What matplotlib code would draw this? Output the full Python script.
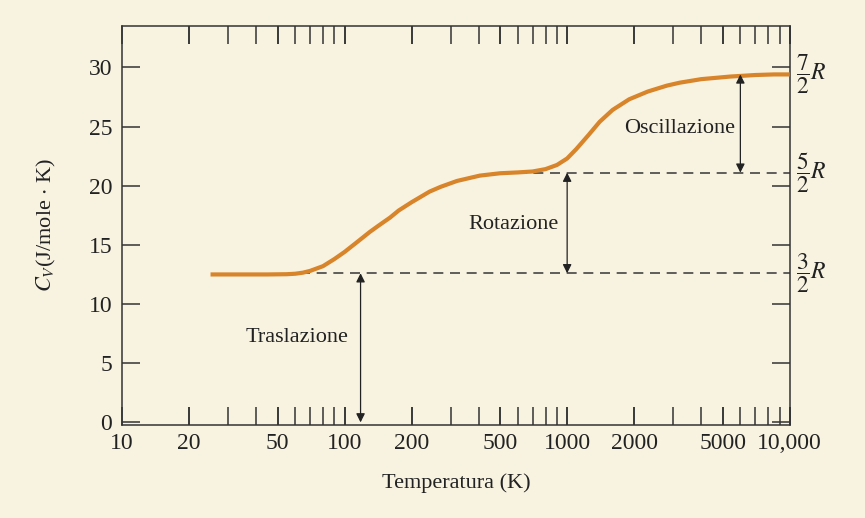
import matplotlib.pyplot as plt
from matplotlib.ticker import FixedLocator, FixedFormatter

plt.rcParams['font.family'] = ['Liberation Serif', 'DejaVu Serif']
plt.rcParams['mathtext.fontset'] = 'stix'

# curve: temperature (K) and Cv (J/mole K)
temp = [25, 35, 45, 55, 60, 65, 70, 80, 90, 100, 115, 130, 144, 160, 175,
        200, 241, 270, 320, 405, 500, 600, 700, 800, 900, 1000, 1100, 1250,
        1400, 1600, 1900, 2300, 2800, 3200, 4000, 5400, 7000, 8500, 10000]
cv = [12.5, 12.5, 12.5, 12.52, 12.56, 12.65, 12.8, 13.2, 13.8, 14.4, 15.3,
      16.1, 16.7, 17.3, 17.9, 18.6, 19.5, 19.9, 20.4, 20.85, 21.05, 21.12,
      21.2, 21.4, 21.75, 22.3, 23.1, 24.3, 25.4, 26.4, 27.3, 27.95, 28.45,
      28.7, 29.0, 29.22, 29.35, 29.4, 29.4]

# plateau levels (3/2 R, 5/2 R, 7/2 R) as drawn
levels = [12.6, 21.1, 29.4]
level_labels = [r'$\dfrac{3}{2}R$', r'$\dfrac{5}{2}R$', r'$\dfrac{7}{2}R$']

x_label_vals = [10, 20, 50, 100, 200, 500, 1000, 2000, 5000, 10000]
x_label_txt = ['10', '20', '50', '100', '200', '500', '1000', '2000', '5000', '10,000']
y_ticks = [0, 5, 10, 15, 20, 25, 30]

# arrows: x position, from, to
arrow_x = [118, 1000, 6000]
arrow_lo = [0, 12.6, 21.1]
arrow_hi = [12.6, 21.1, 29.4]
dash_start = [63, 500]

names = ['Traslazione', 'Rotazione', 'Oscillazione']
name_x = [61, 575, 3200]
name_y = [7.2, 16.7, 24.8]

bg = '#f8f3e1'
ink = '#222222'

fig = plt.figure(figsize=(8.65, 5.18), dpi=100, facecolor=bg)
ax = fig.add_axes([0.141, 0.180, 0.772, 0.770], facecolor=bg)

ax.plot(temp, cv, color='#d8842a', lw=3.0, solid_capstyle='butt',
        solid_joinstyle='round', zorder=3)

for start, lev in zip(dash_start, levels[:2]):
    ax.plot([start, 10000], [lev, lev], color='#444444', lw=1.2,
            dashes=(6, 4), zorder=2)

for xa, lo, hi in zip(arrow_x, arrow_lo, arrow_hi):
    ax.annotate('', xy=(xa, lo), xytext=(xa, hi),
                arrowprops=dict(arrowstyle='<|-|>', color=ink, lw=0.9,
                                mutation_scale=13, shrinkA=0, shrinkB=0))

for n, tx, ty in zip(names, name_x, name_y):
    ax.text(tx, ty, n, ha='center', va='center', fontsize=16, color=ink)

for lev, lab in zip(levels, level_labels):
    ax.text(1.01, lev, lab, transform=ax.get_yaxis_transform(),
            ha='left', va='center', fontsize=17, color=ink)

ax.set_xscale('log')
ax.set_xlim(10, 10000)
ax.set_ylim(-0.2, 33.5)

x_ticks = []
for dec in [10, 100, 1000]:
    for m in range(2, 11):
        x_ticks.append(dec * m)
ax.xaxis.set_major_locator(FixedLocator(x_label_vals + x_ticks))
ax.xaxis.set_minor_locator(FixedLocator([]))
labels = x_label_txt + ['' for _ in x_ticks]
ax.xaxis.set_major_formatter(FixedFormatter(labels))

ax.set_yticks(y_ticks)
ax.tick_params(axis='both', direction='in', length=13, width=1.1,
               color='#333333', labelsize=17, labelcolor=ink, pad=7)
ax.tick_params(axis='x', top=True, pad=6)
ax.tick_params(axis='y', right=True, labelright=False)

for s in ax.spines.values():
    s.set_linewidth(1.1)
    s.set_color('#333333')

ax.set_xlabel('Temperatura (K)', fontsize=16, color=ink, labelpad=14)
ax.set_ylabel(r'$C_V$(J/mole $\cdot$ K)', fontsize=16, color=ink, labelpad=22)

fig.savefig('out.png', dpi=100, facecolor=bg)
